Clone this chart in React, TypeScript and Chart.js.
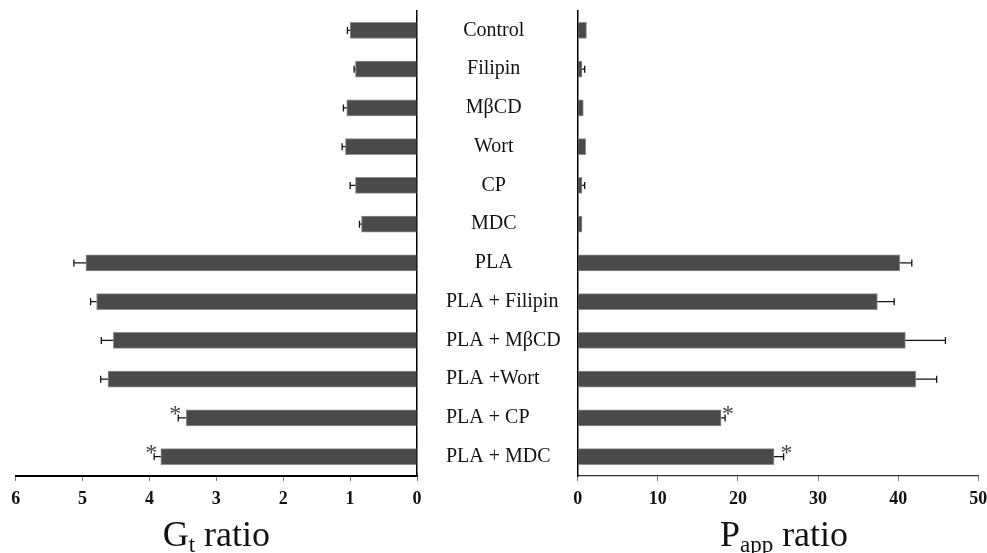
import React, { useEffect, useRef } from 'react';
import { Chart, registerables } from 'chart.js';

Chart.register(...registerables);

// ---------- data ----------
const categories = [
  'Control',
  'Filipin',
  'MβCD',
  'Wort',
  'CP',
  'MDC',
  'PLA',
  'PLA + Filipin',
  'PLA + MβCD',
  'PLA +Wort',
  'PLA + CP',
  'PLA + MDC',
];
const gtRatio = [1.0, 0.92, 1.05, 1.07, 0.92, 0.83, 4.95, 4.79, 4.54, 4.62, 3.45, 3.83];
const gtError = [0.04, 0.02, 0.05, 0.05, 0.08, 0.03, 0.18, 0.09, 0.18, 0.11, 0.12, 0.1];
const pappRatio = [1.1, 0.54, 0.7, 1.0, 0.54, 0.54, 40.2, 37.4, 40.9, 42.2, 17.9, 24.5];
const pappError = [0, 0.33, 0, 0, 0.33, 0, 1.5, 2.1, 5.0, 2.6, 0.5, 1.2];
const significant = [false, false, false, false, false, false, false, false, false, false, true, true];
const gtTitle = ['G', 't', ' ratio'];
const pappTitle = ['P', 'app', ' ratio'];

// ---------- styles ----------
const SERIF = '"Liberation Serif", "Times New Roman", Times, serif';
const BAR = '#4a4a48';
const EDGE = '#8e8e8c';
const W = 987;
const H = 553;

function overlayPlugin(errors: number[], stars: boolean[], dir: number, title: string[], titleShift: number, drawCats: boolean) {
  return {
    id: 'overlay',
    afterDatasetsDraw(chart: any) {
      const ctx = chart.ctx;
      const meta = chart.getDatasetMeta(0);
      const xs = chart.scales.x;
      const vals = chart.data.datasets[0].data as number[];
      ctx.save();
      // error bars
      ctx.strokeStyle = '#111';
      ctx.lineWidth = 1.3;
      meta.data.forEach((bar: any, i: number) => {
        const e = errors[i];
        if (!e) return;
        const x0 = bar.x;
        const x1 = xs.getPixelForValue(vals[i] + e);
        const y = bar.y;
        ctx.beginPath();
        ctx.moveTo(x0, y);
        ctx.lineTo(x1, y);
        ctx.moveTo(x1, y - 3.5);
        ctx.lineTo(x1, y + 3.5);
        ctx.stroke();
      });
      // asterisks
      ctx.fillStyle = '#444';
      ctx.font = `24px ${SERIF}`;
      ctx.textAlign = 'center';
      ctx.textBaseline = 'alphabetic';
      meta.data.forEach((bar: any, i: number) => {
        if (!stars[i]) return;
        const xe = xs.getPixelForValue(vals[i] + (errors[i] || 0));
        ctx.fillText('*', xe + dir * 3, bar.y + 3);
      });
      ctx.restore();
    },
    afterDraw(chart: any) {
      const ctx = chart.ctx;
      const area = chart.chartArea;
      ctx.save();
      ctx.fillStyle = '#111';
      // axis title with subscript
      const big = `36px ${SERIF}`;
      const small = `23px ${SERIF}`;
      ctx.font = big;
      const w0 = ctx.measureText(title[0]).width;
      const w2 = ctx.measureText(title[2]).width;
      ctx.font = small;
      const w1 = ctx.measureText(title[1]).width;
      const total = w0 + w1 + w2;
      let x = (area.left + area.right) / 2 + titleShift - total / 2;
      ctx.textAlign = 'left';
      ctx.textBaseline = 'alphabetic';
      ctx.font = big;
      ctx.fillText(title[0], x, 546);
      x += w0;
      ctx.font = small;
      ctx.fillText(title[1], x, 552);
      x += w1;
      ctx.font = big;
      ctx.fillText(title[2], x, 546);
      // category labels in the middle gap
      if (drawCats) {
        const ys = chart.scales.y;
        ctx.font = `20px ${SERIF}`;
        ctx.textBaseline = 'middle';
        chart.data.labels.forEach((lab: string, i: number) => {
          const y = ys.getPixelForValue(i);
          if (lab.indexOf('+') >= 0) {
            ctx.textAlign = 'left';
            ctx.fillText(lab, ys.left + 29, y);
          } else {
            ctx.textAlign = 'center';
            ctx.fillText(lab, ys.right - 84, y);
          }
        });
      }
      ctx.restore();
    },
  };
}

const tickFont = { family: SERIF, size: 18, weight: 'bold' as const };

export default function App() {
  const leftRef = useRef<HTMLCanvasElement>(null);
  const rightRef = useRef<HTMLCanvasElement>(null);

  useEffect(() => {
    const left = new Chart(leftRef.current as HTMLCanvasElement, {
      type: 'bar',
      data: {
        labels: categories,
        datasets: [
          {
            data: gtRatio,
            backgroundColor: BAR,
            borderColor: EDGE,
            borderWidth: 1,
            barThickness: 16,
          },
        ],
      },
      options: {
        indexAxis: 'y',
        responsive: false,
        animation: false,
        events: [],
        layout: { padding: { left: 15.7, top: 11, right: 0, bottom: 37 } },
        plugins: { legend: { display: false }, tooltip: { enabled: false } },
        scales: {
          x: {
            type: 'linear',
            reverse: true,
            min: 0,
            max: 6,
            ticks: { stepSize: 1, font: tickFont, color: '#111', padding: 8 },
            grid: { drawOnChartArea: false, drawTicks: true, tickLength: 5, color: '#777' },
            border: { color: '#000', width: 2 },
            afterFit: (s: any) => {
              s.height = 40;
            },
          },
          y: {
            position: 'right',
            ticks: { display: false },
            grid: { display: false },
            border: { color: '#000', width: 1.5 },
            afterFit: (s: any) => {
              s.width = 16;
            },
          },
        },
      } as any,
      plugins: [overlayPlugin(gtError, significant, -1, gtTitle, 0, false)],
    });

    const right = new Chart(rightRef.current as HTMLCanvasElement, {
      type: 'bar',
      data: {
        labels: categories,
        datasets: [
          {
            data: pappRatio,
            backgroundColor: BAR,
            borderColor: EDGE,
            borderWidth: 1,
            barThickness: 16,
          },
        ],
      },
      options: {
        indexAxis: 'y',
        responsive: false,
        animation: false,
        events: [],
        layout: { padding: { left: 0, top: 11, right: 20.7, bottom: 37 } },
        plugins: { legend: { display: false }, tooltip: { enabled: false } },
        scales: {
          x: {
            type: 'linear',
            min: 0,
            max: 50,
            ticks: { stepSize: 10, font: tickFont, color: '#111', padding: 8 },
            grid: { drawOnChartArea: false, drawTicks: true, tickLength: 5, color: '#777' },
            border: { color: '#333', width: 1.2 },
            afterFit: (s: any) => {
              s.height = 40;
            },
          },
          y: {
            position: 'left',
            ticks: { display: false },
            grid: { display: false },
            border: { color: '#000', width: 1.5 },
            afterFit: (s: any) => {
              s.width = 160.7;
            },
          },
        },
      } as any,
      plugins: [overlayPlugin(pappError, significant, 1, pappTitle, 6, true)],
    });

    return () => {
      left.destroy();
      right.destroy();
    };
  }, []);

  return (
    <div style={{ position: 'absolute', left: 0, top: 0, width: W, height: H, background: '#fff', overflow: 'hidden' }}>
      <canvas ref={leftRef} width={433} height={H} style={{ position: 'absolute', left: 0, top: 0, width: 433, height: H }} />
      <canvas ref={rightRef} width={582} height={H} style={{ position: 'absolute', left: 417, top: 0, width: 582, height: H }} />
    </div>
  );
}
